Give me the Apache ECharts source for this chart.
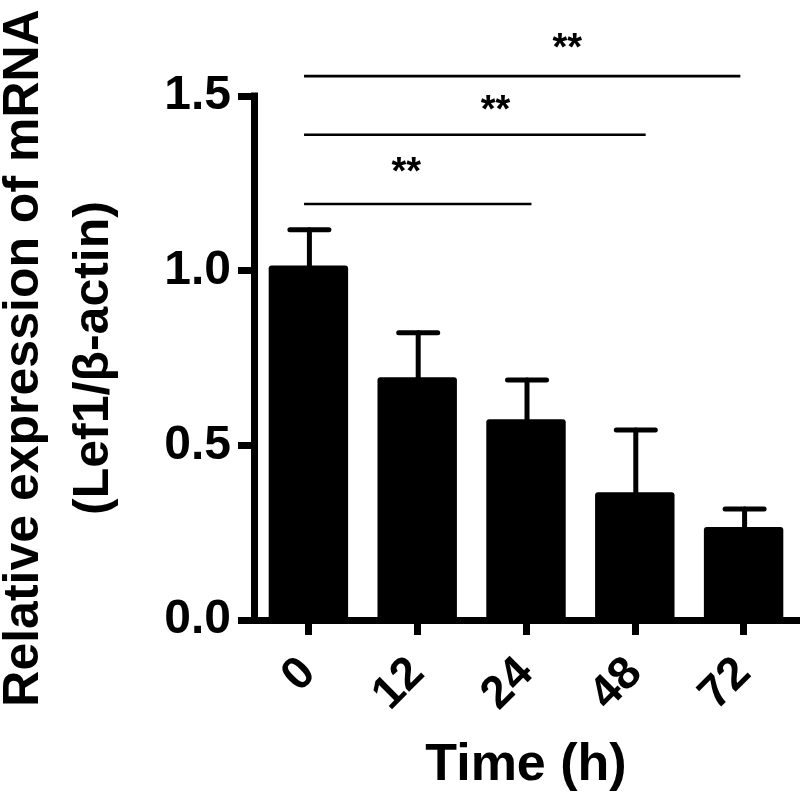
<!DOCTYPE html>
<html><head><meta charset="utf-8">
<script src="https://cdn.jsdelivr.net/npm/echarts@6/dist/echarts.min.js"></script>
<style>html,body{margin:0;padding:0;background:#fff}#c{width:800px;height:796px}</style>
</head><body><div id="c"></div>
<script>
// ---- data ----
const categories = ['0', '12', '24', '48', '72'];
const means = [1.015, 0.695, 0.575, 0.366, 0.266];
const sds = [0.102, 0.127, 0.112, 0.178, 0.052];
const yTickLabels = ['0.0', '0.5', '1.0', '1.5'];
// significance brackets (category units / value units)
const sigFrom = [-0.04, -0.04, -0.04];
const sigTo = [3.97, 3.1, 2.05];
const sigLineY = [1.557, 1.389, 1.191];
const sigStarX = [2.38, 1.72, 0.9];
const sigStarY = [1.634, 1.457, 1.277];
const sigLabel = ['**', '**', '**'];

const FONT = "'Liberation Sans', Arial, Helvetica, sans-serif";
const chart = echarts.init(document.getElementById('c'), null, {renderer: 'canvas'});

const option = {
  animation: false,
  backgroundColor: '#ffffff',
  grid: {left: 254, right: 2, top: 96, bottom: 176, containLabel: false, outerBoundsMode: 'none'},
  xAxis: {
    type: 'category',
    data: categories,
    name: 'Time (h)',
    nameLocation: 'middle',
    nameGap: 120,
    nameTextStyle: {fontSize: 52, fontWeight: 'bold', color: '#000', fontFamily: FONT},
    axisLine: {show: true, lineStyle: {color: '#000', width: 7, cap: 'square'}},
    axisTick: {show: true, alignWithLabel: true, length: 15, lineStyle: {color: '#000', width: 7}},
    axisLabel: {rotate: 45, margin: 46, fontSize: 46, fontWeight: 'bold', color: '#000', fontFamily: FONT},
    splitLine: {show: false}
  },
  yAxis: {
    type: 'value',
    min: 0, max: 1.5, interval: 0.5,
    name: 'Relative expression of mRNA\n(Lef1/β-actin)',
    nameLocation: 'middle',
    nameGap: 125,
    nameTextStyle: {fontSize: 50, fontWeight: 'bold', color: '#000', fontFamily: FONT, lineHeight: 70},
    axisLine: {show: true, lineStyle: {color: '#000', width: 7, cap: 'square'}},
    axisTick: {show: true, length: 16, lineStyle: {color: '#000', width: 7}},
    axisLabel: {
      margin: 23, fontSize: 48, fontWeight: 'bold', color: '#000', fontFamily: FONT,
      formatter: function (v) { return yTickLabels[Math.round(v / 0.5)]; }
    },
    splitLine: {show: false}
  },
  series: [
    {
      type: 'bar',
      data: means,
      barCategoryGap: '27%',
      itemStyle: {color: '#000', borderRadius: [3, 3, 0, 0]},
      z: 2
    },
    {
      type: 'custom',
      clip: false,
      z: 3,
      data: categories.map(function (c, i) { return [i, means[i] + sds[i]]; }),
      renderItem: function (params, api) {
        const i = params.dataIndex;
        const base = api.coord([i, means[i]]);
        const top = api.coord([i, means[i] + sds[i]]);
        const half = 19.5;
        return {
          type: 'group',
          children: [
            {type: 'line', shape: {x1: base[0] + 1, y1: base[1] + 2, x2: top[0] + 1, y2: top[1]},
             style: {stroke: '#000', lineWidth: 5, lineCap: 'round'}},
            {type: 'line', shape: {x1: top[0] + 1 - half, y1: top[1], x2: top[0] + 1 + half, y2: top[1]},
             style: {stroke: '#000', lineWidth: 5, lineCap: 'round'}}
          ]
        };
      }
    },
    {
      type: 'custom',
      clip: false,
      z: 3,
      data: sigLineY.map(function (y) { return [0, y]; }),
      renderItem: function (params, api) {
        const k = params.dataIndex;
        const o = api.coord([0, sigLineY[k]]);
        const bw = api.size([1, 0])[0];
        const s = api.coord([0, sigStarY[k]]);
        return {
          type: 'group',
          children: [
            {type: 'line', shape: {x1: o[0] + sigFrom[k] * bw, y1: o[1], x2: o[0] + sigTo[k] * bw, y2: o[1]},
             style: {stroke: '#000', lineWidth: 2.6}},
            {type: 'text', x: s[0] + sigStarX[k] * bw, y: s[1],
             style: {text: sigLabel[k], fill: '#000', fontSize: 38, fontWeight: 'bold', fontFamily: FONT,
                     align: 'center', verticalAlign: 'middle'}}
          ]
        };
      }
    }
  ]
};
chart.setOption(option);
</script>
</body></html>
